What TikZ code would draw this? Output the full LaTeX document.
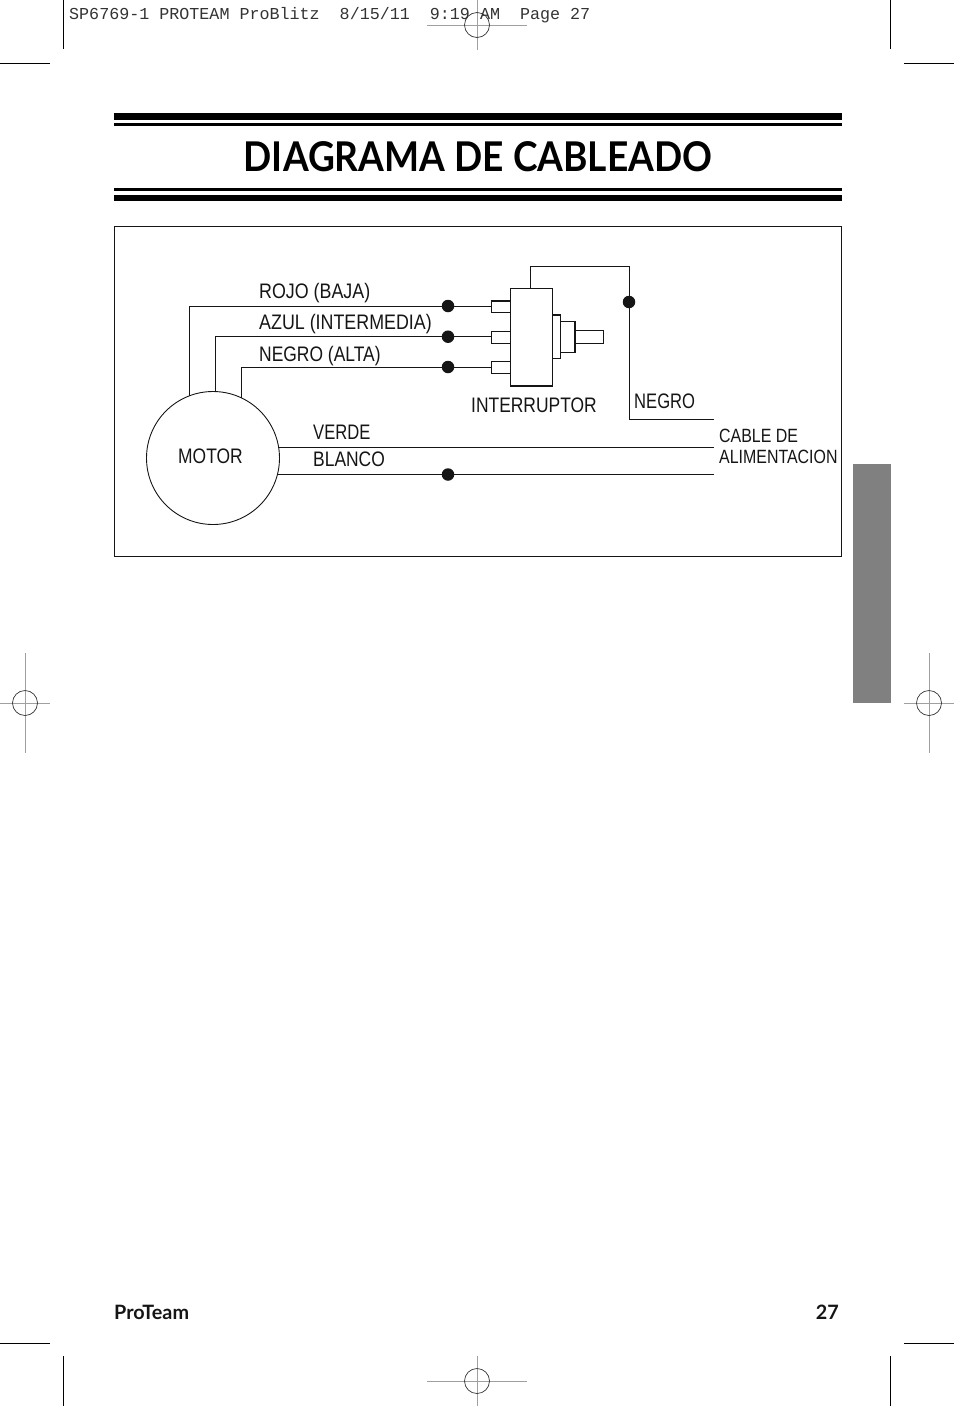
\documentclass[tikz,border=0pt]{standalone}
\usepackage{fontspec}
\setmainfont{Liberation Sans}[FakeStretch=0.83]
\newfontfamily\widelabel{Liberation Sans}[FakeStretch=0.85]
\newfontfamily\narrowlabel{Liberation Sans}[FakeStretch=0.79]
\newfontfamily\titlefont{Lato}[FakeStretch=0.905]
\newfontfamily\footfont{Lato}
\newfontfamily\slugfont{Liberation Mono}
\usetikzlibrary{calc}
\definecolor{tabgray}{HTML}{808080}
\definecolor{markgray}{HTML}{A0A0A0}
\definecolor{inkblack}{HTML}{151515}
\tikzset{
    wire/.style={draw=inkblack, line width=0.9pt},
    part/.style={draw=inkblack, line width=1pt, fill=white},
    junction/.style={circle, fill=inkblack, inner sep=0pt, minimum size=12.5pt},
    wirelabel/.style={anchor=base west, inner sep=0pt, text=inkblack, font=\fontsize{21}{21}\selectfont},
    smalllabel/.style={anchor=base west, inner sep=0pt, text=inkblack, font=\fontsize{19.2}{19.2}\selectfont},
    footlabel/.style={inner sep=0pt, text=inkblack, font=\footfont\bfseries\fontsize{19.8}{19.8}\selectfont},
    cropline/.style={draw=black, line width=0.8pt},
    regline/.style={draw=markgray, line width=1pt},
    regring/.style={draw=black!80, line width=0.7pt}
}
\newcommand{\regmark}[4]{%
    \draw[regline] (#1-#3,#2) -- (#1+#3,#2);
    \draw[regline] (#1,#2-#4) -- (#1,#2+#4);
    \draw[regring] (#1,#2) circle(12.5);
}
\begin{document}
\begin{tikzpicture}[x=1pt,y=-1pt]
    \useasboundingbox (0,0) rectangle (954,1406);

    % Crop marks
    \foreach \xa in {63,890} {
        \draw[cropline] (\xa,0) -- (\xa,49);
        \draw[cropline] (\xa,1356) -- (\xa,1406);
    }
    \foreach \ya in {63,1343} {
        \draw[cropline] (0,\ya) -- (50,\ya);
        \draw[cropline] (904,\ya) -- (954,\ya);
    }

    % Registration marks
    \regmark{477}{25}{50}{25}
    \regmark{477}{1381}{50}{25}
    \regmark{25}{703}{25}{50}
    \regmark{929}{703}{25}{50}

    % Slug line
    \node[anchor=base west, inner sep=0pt, text=black!80, font=\slugfont\fontsize{16.7}{17}\selectfont] (slug) at (69,19)
        {SP6769-1 PROTEAM ProBlitz\ \ 8/15/11\ \ 9:19 AM\ \ Page 27};

    % Title with its rules
    \fill[black] (114,113) rectangle (842,119.5);
    \fill[black] (114,123) rectangle (842,126);
    \node[inner sep=0pt, anchor=base, font=\titlefont\bfseries\fontsize{41}{41}\selectfont] (title) at (478,171) {DIAGRAMA DE CABLEADO};
    \fill[black] (114,188) rectangle (842,190.5);
    \fill[black] (114,195) rectangle (842,201);

    % Side tab
    \fill[tabgray] (853,464) rectangle (891,703);

    % Frame
    \draw[draw=inkblack, line width=0.9pt] (114.5,226.5) rectangle (841.5,556.5);

    % Motor
    \node[circle, draw=inkblack, line width=0.9pt, minimum size=133pt, inner sep=0pt] (motor) at (213,458) {};
    \node[wirelabel] (motorlabel) at (178,463) {MOTOR};

    % Switch terminals, body and shaft
    \node[part, anchor=north west, minimum width=19.5pt, minimum height=11.5pt, inner sep=0pt] (termA) at (490.5,300.7) {};
    \node[part, anchor=north west, minimum width=19.5pt, minimum height=11.5pt, inner sep=0pt] (termB) at (490.5,331) {};
    \node[part, anchor=north west, minimum width=19.5pt, minimum height=11.5pt, inner sep=0pt] (termC) at (490.5,361) {};
    \node[part, anchor=north west, minimum width=42pt, minimum height=96.7pt, inner sep=0pt] (switch) at (510.3,288.3) {};
    \node[part, anchor=north west, minimum width=28.7pt, minimum height=12.2pt, inner sep=0pt] (shaft) at (574,330.3) {};
    \node[part, anchor=north west, minimum width=14.5pt, minimum height=31.3pt, inner sep=0pt] (neck) at (559.5,321) {};
    \node[part, anchor=north west, minimum width=7.2pt, minimum height=43.5pt, inner sep=0pt] (collar) at (552.3,314.5) {};

    % Heavier edges on the switch
    \draw[line width=1.8pt, inkblack] (termA.north west) -- (termA.north east);
    \draw[line width=1.8pt, inkblack] (switch.south west) -- (switch.south east);
    \draw[line width=1.8pt, inkblack] (neck.north east) -- (neck.south east);
    \draw[line width=1.8pt, inkblack] (collar.north west) -- (collar.north east);

    % Junctions
    \node[junction] (dotA) at (448,306) {};
    \node[junction] (dotB) at (448,336.7) {};
    \node[junction] (dotC) at (448,367) {};
    \node[junction] (dotD) at (629,302) {};
    \node[junction] (dotE) at (448,474.5) {};

    % Free ends of the wires
    \coordinate (motorA) at (189.7,396);
    \coordinate (motorB) at (215.5,391.5);
    \coordinate (motorC) at (241,398);
    \coordinate (motorD) at (278,447.5);
    \coordinate (motorE) at (278,474.5);
    \coordinate (lineV) at (714,447.5);
    \coordinate (lineB) at (714,474.5);
    \coordinate (lineN) at (714,419.5);
    \coordinate (switchtop) at (530.5,288.3);
    \coordinate (turn) at (530.5,266.5);

    % Wires
    \draw[wire] (motorA) |- (dotA) -- (termA.west |- dotA);
    \draw[wire] (motorB) |- (dotB) -- (termB.west |- dotB);
    \draw[wire] (motorC) |- (dotC) -- (termC.west |- dotC);
    \draw[wire] (switchtop) -- (turn) -| (dotD) |- (lineN);
    \draw[wire] (motorD) -- (lineV);
    \draw[wire] (motorE) -- (dotE) -- (lineB);

    % Wire labels
    \node[wirelabel] (rojo) at (259,298) {\widelabel ROJO (BAJA)};
    \node[wirelabel] (azul) at (259,329) {\widelabel AZUL (INTERMEDIA)};
    \node[wirelabel] (negroalta) at (259,361) {NEGRO (ALTA)};
    \node[wirelabel] (interruptor) at (471,412) {INTERRUPTOR};
    \node[wirelabel] (negro) at (634,408) {\narrowlabel NEGRO};
    \node[wirelabel] (verde) at (313,439) {\narrowlabel VERDE};
    \node[wirelabel] (blanco) at (313,466) {BLANCO};
    \node[smalllabel] (cable) at (719,442) {CABLE DE};
    \node[smalllabel] (alim) at (719,463) {ALIMENTACION};

    % Footer
    \node[footlabel, anchor=base west] (brand) at (114,1319) {ProTeam};
    \node[footlabel, anchor=base east] (page) at (839,1319) {27};

\end{tikzpicture}
\end{document}
